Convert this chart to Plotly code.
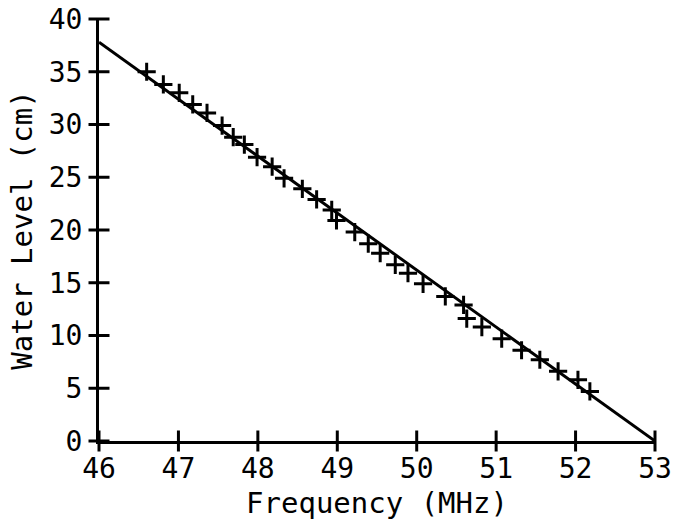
import plotly.graph_objects as go

freq = [46.60, 46.81, 47.01, 47.18, 47.36, 47.55, 47.69, 47.83, 47.99, 48.18, 48.33,
        48.56, 48.74, 48.93, 48.99, 49.22, 49.39, 49.54, 49.73, 49.89, 50.08, 50.36,
        50.59, 50.63, 50.82, 51.07, 51.32, 51.55, 51.78, 52.03, 52.18]
level = [35.0, 33.8, 33.0, 31.9, 31.1, 29.9, 28.8, 28.1, 26.9, 26.0, 24.9,
         23.9, 22.9, 21.9, 20.9, 19.8, 18.7, 17.8, 16.7, 15.9, 14.9, 13.7,
         12.9, 11.6, 10.8, 9.7, 8.6, 7.7, 6.6, 5.8, 4.7]
fit_freq = [46, 53]
fit_level = [37.8, 0]

x_ticks = [46, 47, 48, 49, 50, 51, 52, 53]
y_ticks = [0, 5, 10, 15, 20, 25, 30, 35, 40]

fig = go.Figure()
fig.add_trace(go.Scatter(x=fit_freq, y=fit_level, mode="lines",
                         line=dict(color="black", width=3), showlegend=False))
fig.add_trace(go.Scatter(x=freq, y=level, mode="markers",
                         marker=dict(symbol="cross-thin", size=13,
                                     line=dict(color="black", width=3)),
                         showlegend=False))
# crossing tick marks on the axes (plotter style)
fig.add_trace(go.Scatter(x=x_ticks, y=[y_ticks[0]] * len(x_ticks), mode="markers",
                         marker=dict(symbol="line-ns", size=15,
                                     line=dict(color="black", width=3)),
                         hoverinfo="skip", showlegend=False, cliponaxis=False))
fig.add_trace(go.Scatter(x=[x_ticks[0]] * len(y_ticks), y=y_ticks, mode="markers",
                         marker=dict(symbol="line-ew", size=15,
                                     line=dict(color="black", width=3)),
                         hoverinfo="skip", showlegend=False, cliponaxis=False))

tickfont = dict(family="DejaVu Sans Mono", size=28, color="black")
titlefont = dict(family="DejaVu Sans Mono", size=29, color="black")

fig.update_layout(
    width=679, height=524,
    margin=dict(l=99, r=24, t=19, b=83),
    plot_bgcolor="white", paper_bgcolor="white",
    xaxis=dict(range=[46, 53], tickvals=x_ticks, ticks="", showline=True,
               linecolor="black", linewidth=3, showgrid=False, zeroline=False,
               tickfont=tickfont, ticklabelstandoff=0, automargin=False,
               title=dict(text="Frequency (MHz)", font=titlefont, standoff=10)),
    yaxis=dict(range=[0, 40], tickvals=y_ticks, ticks="", showline=True,
               linecolor="black", linewidth=3, showgrid=False, zeroline=False,
               tickfont=tickfont, ticklabelstandoff=8, automargin=False,
               title=dict(text="Water Level (cm)", font=titlefont, standoff=8)),
)

fig.write_html("out.html")
